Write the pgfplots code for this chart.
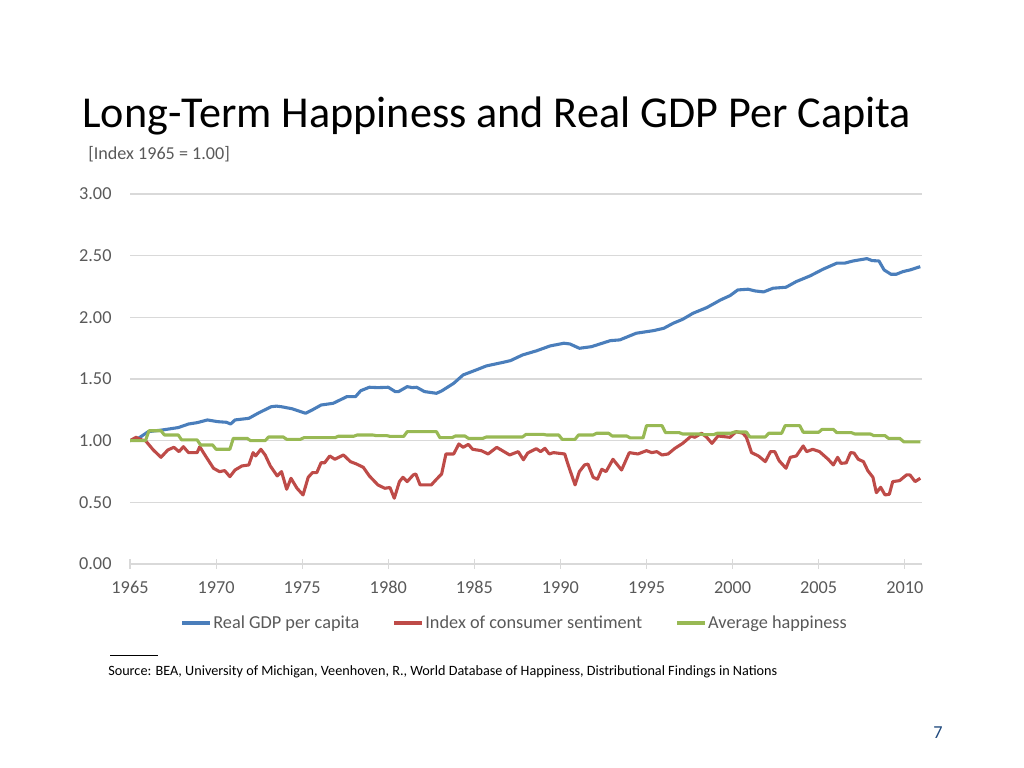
\documentclass[border=0pt]{standalone}
\usepackage{pgfplots}
\pgfplotsset{compat=1.18}
\usepackage{fontspec}
\setmainfont{Carlito}
\definecolor{gdpblue}{HTML}{4A7EBB}
\definecolor{sentred}{HTML}{BE4B48}
\definecolor{happygreen}{HTML}{98B954}
\definecolor{gridgray}{HTML}{D9D9D9}
\definecolor{txtgray}{HTML}{595959}
\definecolor{pageblue}{HTML}{1F497D}
\begin{document}
\begin{tikzpicture}
\useasboundingbox (0,0) rectangle (25.6,19.2);
\node[anchor=base west,inner sep=0pt] at (2.05,16.0) {\fontsize{31.4}{36}\selectfont Long-Term Happiness and Real GDP Per Capita};
\node[anchor=base west,inner sep=0pt,text=txtgray] at (2.2,15.2) {\fontsize{12.9}{15}\selectfont [Index 1965 = 1.00]};
\begin{axis}[
  at={(3.25cm,5.1cm)}, anchor=south west,
  scale only axis,
  width=19.8cm, height=9.25cm,
  xmin=1965, xmax=2011,
  ymin=0, ymax=3,
  xtick={1965,1970,...,2010},
  ytick={0,0.5,...,3},
  separate axis lines,
  axis x line*=bottom,
  axis y line*=left,
  x axis line style={draw=gridgray,line width=0.8pt,-},
  y axis line style={draw=none},
  ytick style={draw=none},
  xtick style={draw=gridgray,line width=0.8pt},
  tick align=center,
  major tick length=0.25cm,
  ymajorgrids,
  major grid style={draw=gridgray,line width=0.8pt},
  /pgf/number format/assume math mode=true,
  /pgf/number format/1000 sep={},
  yticklabel={\pgfmathprintnumber[fixed,fixed zerofill,precision=2]{\tick}},
  tick label style={font=\fontsize{13}{15}\selectfont,text=txtgray},
  yticklabel style={anchor=east,inner sep=0pt,xshift=-0.33cm},
  xticklabel style={anchor=north,inner sep=0pt,yshift=-0.3cm},
  legend columns=3,
  legend style={at={(0.4855,-0.1595)},anchor=center,draw=none,fill=none,
    font=\fontsize{13}{15}\selectfont,text=txtgray,
    nodes={inner sep=1pt},
    /tikz/every even column/.append style={column sep=0.8cm}},
  legend image code/.code={\draw[#1,line width=2.2pt] (0cm,0cm) -- (0.7cm,0cm);},
  every axis plot/.append style={line width=2.2pt,line join=round,mark=none},
]
\addplot[gdpblue] coordinates {
(1965.0,1.00) (1965.5,1.02) (1966.06,1.073) (1966.9,1.087) (1967.8,1.106) (1968.4,1.135) (1968.9,1.146) (1969.5,1.168) (1970.1,1.154) (1970.6,1.149) (1970.85,1.135) (1971.1,1.168) (1971.9,1.181) (1972.5,1.227) (1973.2,1.275) (1973.5,1.28) (1973.8,1.275) (1974.4,1.259) (1975.2,1.222) (1975.65,1.254) (1976.1,1.289) (1976.8,1.303) (1977.6,1.357) (1978.1,1.357) (1978.4,1.405) (1978.9,1.433) (1979.4,1.430) (1980.0,1.433) (1980.4,1.398) (1980.6,1.398) (1981.1,1.438) (1981.4,1.43) (1981.65,1.433) (1982.1,1.398) (1982.8,1.384) (1983.1,1.403) (1983.8,1.465) (1984.35,1.533) (1985.1,1.573) (1985.7,1.606) (1986.7,1.636) (1987.1,1.649) (1987.8,1.695) (1988.6,1.728) (1989.4,1.768) (1990.2,1.790) (1990.55,1.784) (1991.1,1.749) (1991.8,1.762) (1992.9,1.811) (1993.45,1.817) (1994.4,1.871) (1995.4,1.892) (1996.0,1.911) (1996.55,1.952) (1997.1,1.984) (1997.7,2.033) (1998.5,2.079) (1999.3,2.141) (1999.85,2.176) (2000.3,2.222) (2000.9,2.228) (2001.3,2.214) (2001.8,2.206) (2002.35,2.236) (2003.1,2.244) (2003.7,2.290) (2004.5,2.336) (2005.25,2.390) (2006.05,2.439) (2006.5,2.439) (2007.0,2.457) (2007.8,2.476) (2008.1,2.460) (2008.5,2.457) (2008.8,2.384) (2009.2,2.349) (2009.5,2.349) (2009.9,2.371) (2010.3,2.384) (2010.9,2.411)
};
\addlegendentry{Real GDP per capita}
\addplot[sentred] coordinates {
(1965.0,1.00) (1965.35,1.027) (1965.7,1.005) (1965.9,1.0) (1966.35,0.925) (1966.8,0.865) (1967.2,0.925) (1967.55,0.946) (1967.85,0.911) (1968.1,0.951) (1968.4,0.903) (1968.9,0.903) (1969.05,0.951) (1969.35,0.884) (1969.85,0.776) (1970.2,0.749) (1970.5,0.757) (1970.8,0.708) (1971.1,0.762) (1971.5,0.795) (1971.9,0.803) (1972.15,0.903) (1972.3,0.876) (1972.6,0.930) (1972.85,0.884) (1973.15,0.795) (1973.55,0.714) (1973.8,0.749) (1974.1,0.606) (1974.35,0.695) (1974.7,0.614) (1975.05,0.560) (1975.35,0.703) (1975.6,0.741) (1975.85,0.741) (1976.1,0.822) (1976.3,0.82) (1976.6,0.876) (1976.9,0.849) (1977.4,0.884) (1977.8,0.830) (1978.15,0.811) (1978.55,0.784) (1978.9,0.714) (1979.4,0.641) (1979.8,0.614) (1980.1,0.62) (1980.35,0.533) (1980.65,0.668) (1980.85,0.703) (1981.1,0.668) (1981.45,0.722) (1981.6,0.73) (1981.85,0.641) (1982.5,0.641) (1982.8,0.687) (1983.1,0.730) (1983.35,0.892) (1983.8,0.892) (1984.1,0.973) (1984.35,0.946) (1984.65,0.970) (1984.9,0.930) (1985.4,0.919) (1985.8,0.892) (1986.3,0.946) (1987.05,0.884) (1987.55,0.911) (1987.85,0.845) (1988.1,0.900) (1988.6,0.935) (1988.85,0.911) (1989.1,0.938) (1989.35,0.892) (1989.6,0.903) (1990.25,0.892) (1990.45,0.803) (1990.85,0.641) (1991.1,0.749) (1991.4,0.803) (1991.6,0.81) (1991.9,0.703) (1992.15,0.687) (1992.4,0.768) (1992.65,0.749) (1993.05,0.849) (1993.55,0.762) (1994.0,0.903) (1994.5,0.892) (1995.0,0.919) (1995.3,0.903) (1995.6,0.911) (1995.9,0.884) (1996.25,0.892) (1996.65,0.938) (1997.1,0.978) (1997.6,1.038) (1997.8,1.027) (1998.2,1.060) (1998.5,1.027) (1998.8,0.978) (1999.15,1.038) (1999.85,1.027) (2000.2,1.073) (2000.6,1.06) (2000.8,1.027) (2001.1,0.903) (2001.5,0.876) (2001.9,0.830) (2002.2,0.911) (2002.45,0.911) (2002.7,0.838) (2003.1,0.776) (2003.35,0.865) (2003.7,0.876) (2004.1,0.957) (2004.3,0.911) (2004.65,0.930) (2005.05,0.911) (2005.55,0.849) (2005.85,0.803) (2006.1,0.865) (2006.3,0.816) (2006.6,0.82) (2006.85,0.903) (2007.05,0.90) (2007.3,0.849) (2007.6,0.830) (2007.85,0.757) (2008.15,0.703) (2008.35,0.578) (2008.6,0.622) (2008.85,0.560) (2009.1,0.565) (2009.3,0.668) (2009.7,0.676) (2010.1,0.722) (2010.3,0.722) (2010.6,0.668) (2010.9,0.695)
};
\addlegendentry{Index of consumer sentiment}
\addplot[happygreen] coordinates {
(1965.0,1.0) (1965.9,1.0) (1966.1,1.08) (1966.8,1.08) (1967.0,1.046) (1967.8,1.046) (1968.0,1.006) (1968.9,1.006) (1969.1,0.965) (1969.8,0.965) (1970.0,0.93) (1970.8,0.93) (1971.0,1.019) (1971.8,1.019) (1972.0,1.0) (1972.85,1.0) (1973.05,1.03) (1973.9,1.03) (1974.1,1.011) (1974.9,1.011) (1975.1,1.024) (1976.9,1.024) (1977.1,1.036) (1978.0,1.036) (1978.2,1.046) (1979.1,1.046) (1979.3,1.041) (1979.9,1.041) (1980.1,1.035) (1980.9,1.035) (1981.1,1.073) (1982.8,1.073) (1983.0,1.024) (1983.7,1.024) (1983.9,1.038) (1984.45,1.038) (1984.65,1.019) (1985.5,1.019) (1985.7,1.03) (1987.8,1.03) (1988.0,1.051) (1989.0,1.051) (1989.2,1.046) (1989.9,1.046) (1990.1,1.011) (1990.85,1.011) (1991.05,1.046) (1991.9,1.046) (1992.1,1.06) (1992.8,1.06) (1993.0,1.038) (1993.85,1.038) (1994.05,1.022) (1994.8,1.022) (1995.0,1.122) (1995.9,1.122) (1996.1,1.065) (1996.9,1.065) (1997.1,1.054) (1998.1,1.054) (1998.3,1.049) (1998.9,1.049) (1999.1,1.06) (1999.9,1.06) (2000.1,1.07) (2000.8,1.07) (2001.0,1.03) (2001.9,1.03) (2002.1,1.06) (2002.85,1.06) (2003.05,1.122) (2003.9,1.122) (2004.1,1.068) (2005.0,1.068) (2005.2,1.092) (2005.85,1.092) (2006.05,1.065) (2006.9,1.065) (2007.1,1.054) (2008.0,1.054) (2008.2,1.041) (2008.85,1.041) (2009.05,1.019) (2009.7,1.019) (2009.95,0.99) (2010.9,0.99)
};
\addlegendentry{Average happiness}
\end{axis}
\draw[black,line width=0.6pt] (2.75,2.825) -- (3.95,2.825);
\node[anchor=base west,inner sep=0pt] at (2.7,2.3) {\fontsize{10.1}{12}\selectfont Source: BEA, University of Michigan, Veenhoven, R., World Database of Happiness, Distributional Findings in Nations};
\node[anchor=base,inner sep=0pt,text=pageblue] at (23.45,0.725) {\fontsize{13}{15}\selectfont 7};
\end{tikzpicture}
\end{document}
